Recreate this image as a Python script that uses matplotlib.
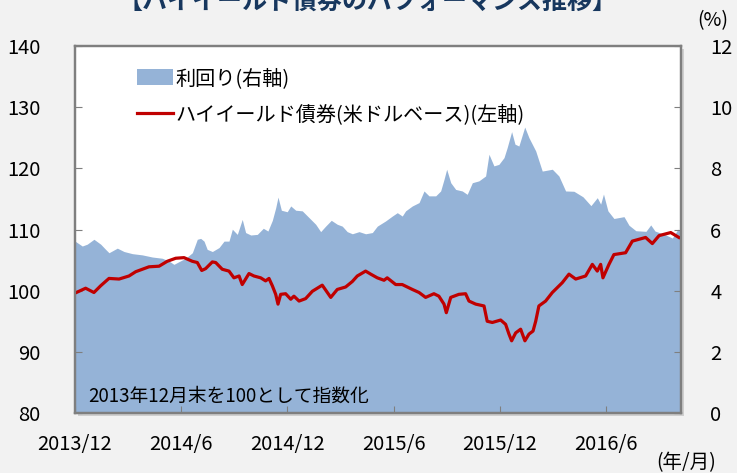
import matplotlib
matplotlib.use("Agg")
import matplotlib.pyplot as plt
from matplotlib.patches import Patch, Rectangle
from matplotlib.lines import Line2D

plt.rcParams['font.family'] = ['Noto Sans CJK JP', 'DejaVu Sans']

# months elapsed since end of 2013/12
hy_months = [0.00, 0.60, 1.07, 1.45, 1.92, 2.49, 3.05, 3.43, 4.18, 4.75, 5.21, 5.69,
             6.16, 6.63, 6.91, 7.16, 7.38, 7.76, 7.95, 8.32, 8.70, 8.98, 9.27, 9.45,
             9.83, 10.11, 10.49, 10.77, 10.96, 11.15, 11.34, 11.47, 11.62, 11.90, 12.19,
             12.37, 12.66, 13.03, 13.41, 13.97, 14.45, 14.82, 15.29, 15.67, 15.95, 16.42,
             16.71, 17.08, 17.46, 17.64, 18.12, 18.49, 19.06, 19.44, 19.81, 20.28, 20.56,
             20.85, 20.98, 21.23, 21.69, 22.07, 22.26, 22.64, 23.11, 23.29, 23.58, 24.05,
             24.33, 24.52, 24.67, 24.90, 25.18, 25.42, 25.65, 25.88, 26.03, 26.21, 26.59,
             26.97, 27.53, 27.91, 28.29, 28.85, 29.23, 29.51, 29.70, 29.83, 30.17, 30.45,
             31.11, 31.49, 32.24, 32.62, 33.00, 33.66, 34.12]
# high yield bond index (USD basis), 2013/12 end = 100, left axis
hy_index = [99.6, 100.4, 99.7, 100.8, 102.0, 101.9, 102.4, 103.1, 103.9, 104.0, 104.8, 105.3,
            105.4, 104.8, 104.6, 103.3, 103.6, 104.7, 104.6, 103.5, 103.2, 102.1, 102.4, 101.0,
            102.8, 102.4, 102.1, 101.6, 102.0, 100.8, 99.4, 97.8, 99.4, 99.5, 98.6,
            99.1, 98.3, 98.7, 99.9, 100.9, 98.9, 100.2, 100.6, 101.5, 102.4, 103.2,
            102.7, 102.1, 101.7, 102.1, 101.0, 101.0, 100.2, 99.7, 98.9, 99.5, 99.1,
            97.8, 96.4, 98.9, 99.4, 99.5, 98.3, 97.8, 97.5, 95.0, 94.8, 95.2,
            94.5, 92.9, 91.8, 93.1, 93.7, 91.8, 92.9, 93.4, 95.0, 97.5, 98.3,
            99.7, 101.3, 102.7, 101.9, 102.4, 104.3, 103.2, 104.3, 102.1, 104.3, 105.9,
            106.2, 108.1, 108.7, 107.7, 109.0, 109.5, 108.7]

yld_months = [0.00, 0.41, 0.69, 1.07, 1.45, 1.73, 1.92, 2.39, 2.77, 3.24, 3.80, 4.37,
              4.93, 5.31, 5.59, 5.88, 6.25, 6.63, 6.91, 7.10, 7.29, 7.47, 7.76, 8.14,
              8.42, 8.70, 8.89, 9.17, 9.45, 9.64, 9.93, 10.30, 10.64, 10.90, 11.15,
              11.34, 11.47, 11.66, 11.99, 12.19, 12.47, 12.84, 13.22, 13.60, 13.88, 14.16,
              14.48, 14.82, 15.10, 15.38, 15.67, 16.05, 16.42, 16.80, 17.08, 17.55, 17.93,
              18.21, 18.49, 18.68, 19.06, 19.44, 19.72, 20.00, 20.38, 20.66, 20.85, 21.00,
              21.23, 21.51, 21.88, 22.16, 22.45, 22.82, 23.20, 23.39, 23.67, 23.95, 24.24,
              24.42, 24.67, 24.86, 25.08, 25.41, 25.65, 26.03, 26.40, 26.97, 27.34, 27.72,
              28.19, 28.70, 29.15, 29.51, 29.70, 29.86, 30.11, 30.45, 31.02, 31.30, 31.69,
              32.26, 32.53, 32.77, 33.39, 33.75, 34.07, 34.24]
# yield (%), right axis
yld = [5.62, 5.46, 5.52, 5.68, 5.52, 5.35, 5.24, 5.39, 5.28, 5.21, 5.17, 5.10,
       5.06, 4.97, 4.86, 4.95, 5.06, 5.24, 5.68, 5.71, 5.62, 5.35, 5.28, 5.41,
       5.62, 5.62, 6.01, 5.84, 6.33, 5.90, 5.82, 5.84, 6.04, 5.95, 6.30,
       6.71, 7.06, 6.63, 6.58, 6.77, 6.63, 6.61, 6.39, 6.17, 5.93, 6.11,
       6.30, 6.17, 6.11, 5.93, 5.86, 5.93, 5.86, 5.90, 6.11, 6.28, 6.44,
       6.55, 6.44, 6.61, 6.77, 6.88, 7.26, 7.10, 7.10, 7.26, 7.64, 7.97,
       7.53, 7.31, 7.26, 7.15, 7.53, 7.59, 7.75, 8.46, 8.08, 8.13, 8.35,
       8.68, 9.20, 8.79, 8.73, 9.35, 9.00, 8.57, 7.91, 7.97, 7.75, 7.26,
       7.25, 7.07, 6.78, 7.04, 6.83, 7.16, 6.61, 6.36, 6.42, 6.14, 5.96,
       5.94, 6.15, 5.95, 5.82, 5.72, 6.01, 5.95]

tick_months = [0, 6, 12, 18, 24, 30]
tick_labels = ["2013/12", "2014/6", "2014/12", "2015/6", "2015/12", "2016/6"]

fill_color = "#95b3d7"
line_color = "#c00000"
grey = "#7f7f7f"

fig = plt.figure(figsize=(7.37, 4.73), dpi=100, facecolor="#f2f2f2")
pos = [75 / 737, 60 / 473, 606 / 737, 367 / 473]

# soft shadow behind the plot frame
fig.patches.append(Rectangle((pos[0] + 3 / 737, pos[1] - 3 / 473), pos[2], pos[3],
                             transform=fig.transFigure, facecolor="#cfcfcf",
                             edgecolor="none", zorder=-5))

ax2 = fig.add_axes(pos)  # right axis: yield area
ax = ax2.twinx()          # left axis drawn on top
ax.yaxis.tick_left()
ax.yaxis.set_label_position("left")
ax2.yaxis.tick_right()
ax.set_zorder(ax2.get_zorder() + 1)
ax.patch.set_visible(False)
ax2.set_facecolor("white")

ax2.fill_between(yld_months, 0, yld, color=fill_color, lw=0)
ax.plot(hy_months, hy_index, color=line_color, lw=2.3)

ax2.set_xlim(0, 34.24)
ax.set_ylim(80, 140)
ax2.set_ylim(0, 12)
ax.set_yticks(range(80, 141, 10))
ax2.set_yticks(range(0, 13, 2))
ax2.set_xticks(tick_months)
ax2.set_xticklabels(tick_labels)

for a in (ax, ax2):
    for s in a.spines.values():
        s.set_color(grey)
        s.set_linewidth(1.6)

ax.tick_params(axis="y", direction="in", length=5, color=grey, labelsize=14.5,
               pad=25, labelcolor="black")
ax2.tick_params(axis="y", direction="in", length=5, color=grey, labelsize=14.5,
                pad=21, labelcolor="black")
ax2.tick_params(axis="x", direction="in", length=5, color=grey, labelsize=14.5,
                pad=15, labelcolor="black")
for t in ax2.get_yticklabels():
    t.set_horizontalalignment("left")

handles = [Patch(facecolor=fill_color, edgecolor="none"),
           Line2D([], [], color=line_color, lw=2.3)]
labels = ["利回り(右軸)", "ハイイールド債券(米ドルベース)(左軸)"]
ax.legend(handles, labels, loc="upper left", bbox_to_anchor=(0.102, 0.94),
          frameon=False, fontsize=14.5, borderpad=0, borderaxespad=0,
          handlelength=1.8, handleheight=0.8, handletextpad=0.1, labelspacing=0.75)

ax.text(0.021, 0.046, "2013年12月末を100として指数化", transform=ax.transAxes,
        fontsize=13.5, va="center", ha="left")

fig.text(686 / 737, 1 - 463 / 473, "(年/月)", fontsize=14, ha="center", va="center")
fig.text(713 / 737, 1 - 21 / 473, "(%)", fontsize=14, ha="center", va="center")
fig.text(368 / 737, 1 - 14 / 473, "【ハイイールド債券のパフォーマンス推移】", fontsize=18,
         fontweight="bold", color="#17375e", ha="center", va="bottom")

fig.savefig("out.png", dpi=100, facecolor=fig.get_facecolor())
